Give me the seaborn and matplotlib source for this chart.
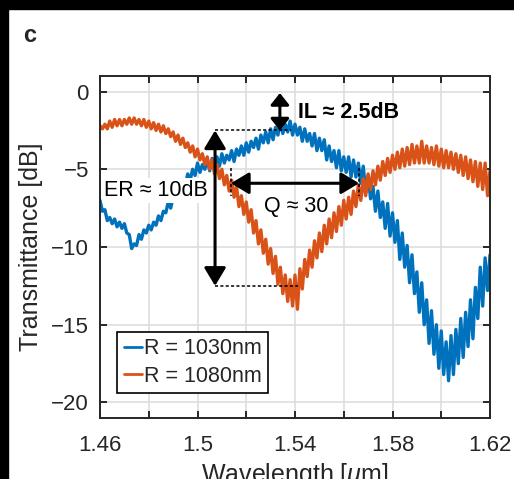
import numpy as np
import pandas as pd
import matplotlib
matplotlib.use("Agg")
import matplotlib.pyplot as plt
from matplotlib.patches import Rectangle
import seaborn as sns

# wavelength sampling grid [um], 1 nm steps
wavelength = np.round(np.linspace(1.460, 1.620, 161), 3)

t_1030 = [
    -7.0, -7.7, -7.6, -8.3, -8.1, -8.5, -8.2, -8.7, -8.4, -8.8,
    -8.5, -9.1, -9.2, -10.1, -9.8, -9.9, -9.2, -9.5, -8.9, -9.1,
    -8.6, -8.9, -8.4, -8.6, -8.0, -8.3, -7.7, -7.8, -7.1, -7.5,
    -6.8, -7.0, -6.2, -6.6, -5.8, -6.0, -5.3, -5.7, -5.0, -5.4,
    -4.6, -5.2, -4.7, -5.0, -4.4, -5.1, -4.3, -4.7, -4.2, -4.8,
    -4.0, -4.6, -4.1, -4.4, -3.8, -4.5, -3.7, -4.1, -3.5, -4.1,
    -3.3, -3.9, -3.2, -3.6, -3.0, -3.7, -2.8, -3.3, -2.6, -3.3,
    -2.4, -3.1, -2.3, -2.8, -1.9, -2.7, -2.1, -2.6, -1.9, -2.8,
    -2.1, -2.8, -2.3, -3.2, -2.4, -3.2, -2.7, -3.5, -2.7, -3.8,
    -3.0, -3.8, -3.1, -4.4, -3.5, -4.5, -3.8, -4.9, -3.8, -5.1,
    -4.2, -5.2, -4.2, -5.5, -4.4, -5.5, -4.6, -5.9, -4.8, -6.5,
    -5.4, -6.9, -6.1, -7.7, -6.4, -8.1, -7.1, -8.8, -7.2, -9.3,
    -7.8, -9.7, -8.3, -10.8, -9.1, -11.3, -9.9, -12.3, -10.5, -13.0,
    -11.6, -14.2, -12.3, -15.0, -13.4, -16.2, -14.1, -16.9, -15.0, -17.8,
    -15.4, -18.2, -16.1, -18.6, -15.7, -18.2, -15.3, -17.5, -14.6, -17.1,
    -14.2, -16.4, -13.4, -15.9, -12.6, -14.6, -11.3, -13.8, -10.7, -12.8,
    -10.5,
]
t_1080 = [
    -2.2, -2.4, -2.1, -2.4, -1.9, -2.3, -1.8, -2.2, -1.8, -2.2,
    -1.8, -2.1, -1.7, -2.1, -1.7, -2.1, -1.8, -2.2, -1.8, -2.3,
    -1.9, -2.4, -2.0, -2.5, -2.1, -2.6, -2.2, -2.7, -2.4, -2.9,
    -2.6, -3.2, -2.8, -3.4, -3.0, -3.6, -3.3, -3.9, -3.5, -4.2,
    -3.7, -4.4, -4.0, -4.7, -4.2, -5.0, -4.4, -5.3, -4.7, -5.6,
    -5.0, -6.0, -5.4, -6.4, -5.7, -6.8, -6.1, -7.4, -6.7, -7.9,
    -7.1, -8.4, -7.6, -9.1, -8.3, -9.8, -8.9, -10.4, -9.5, -11.1,
    -10.1, -11.7, -10.6, -12.4, -11.3, -13.0, -11.8, -13.5, -12.1, -13.8,
    -11.8, -14.0, -11.4, -12.7, -10.8, -11.9, -10.2, -11.3, -9.6, -10.7,
    -9.1, -10.3, -8.6, -9.8, -8.2, -9.4, -7.8, -9.0, -7.4, -8.6,
    -7.0, -8.2, -6.8, -7.9, -6.4, -7.4, -6.0, -7.0, -5.6, -6.7,
    -5.3, -6.3, -5.1, -6.0, -4.8, -5.7, -4.5, -5.4, -4.3, -5.2,
    -4.1, -5.0, -3.9, -4.9, -3.7, -4.8, -3.6, -4.7, -3.4, -4.6,
    -3.5, -4.6, -3.2, -4.6, -3.5, -4.6, -3.6, -4.7, -3.5, -4.8,
    -3.7, -4.9, -3.8, -4.9, -3.9, -5.0, -4.0, -5.2, -4.1, -5.4,
    -4.2, -5.6, -4.4, -5.8, -4.5, -6.1, -4.6, -6.3, -4.6, -6.7,
    -5.1,
]
series_labels = ["R = 1030nm", "R = 1080nm"]
colors = ["#0072BD", "#D95319"]

xticks = [1.46, 1.48, 1.50, 1.52, 1.54, 1.56, 1.58, 1.60, 1.62]
xtick_labels = ["1.46", "", "1.5", "", "1.54", "", "1.58", "", "1.62"]
yticks = [-20, -15, -10, -5, 0]

df = pd.concat([
    pd.DataFrame({"wl": wavelength, "T": t_1030, "ring": series_labels[0]}),
    pd.DataFrame({"wl": wavelength, "T": t_1080, "ring": series_labels[1]}),
])

sns.set_theme(style="ticks")
plt.rcParams["font.family"] = ["Liberation Sans", "DejaVu Sans"]
plt.rcParams["mathtext.fontset"] = "custom"
plt.rcParams["mathtext.it"] = "Liberation Sans:italic"
plt.rcParams["mathtext.rm"] = "Liberation Sans"

fig = plt.figure(figsize=(5.14, 4.79), dpi=100, facecolor="white")
ax = fig.add_axes([100 / 514, 1 - 418 / 479, 390 / 514, 342 / 479])

sns.lineplot(data=df, x="wl", y="T", hue="ring", hue_order=series_labels,
             palette=colors, estimator=None, sort=False, lw=2.4,
             legend=False, ax=ax)

ax.set_xlim(1.46, 1.62)
ax.set_ylim(-21, 1)
ax.set_xticks(xticks, xtick_labels)
ax.set_yticks(yticks)
ax.grid(True, color="#DEDEDE", lw=1.2)
ax.set_axisbelow(True)
dark = "#262626"
for s in ax.spines.values():
    s.set_visible(True)
    s.set_color(dark)
    s.set_linewidth(1.4)
ax.tick_params(direction="in", top=True, right=True, length=5, width=1.4,
               color=dark, labelcolor=dark, labelsize=16, pad=8)
ax.tick_params(axis="x", pad=12)
ax.set_xlabel(r"Wavelength [$\mu$m]", fontsize=18, color=dark, labelpad=4)
ax.set_ylabel("Transmittance [dB]", fontsize=18, color=dark, labelpad=6)

leg = ax.legend(ax.lines[:2], series_labels, loc="lower left",
                bbox_to_anchor=(0.044, 0.073), borderaxespad=0,
                fontsize=15.5, handlelength=0.85, handletextpad=0.1,
                labelspacing=0.3, borderpad=0.3, fancybox=False,
                framealpha=1, edgecolor="black")
leg.get_frame().set_linewidth(1.2)
for line in leg.get_lines():
    line.set_linewidth(2)

# annotations
arrow = dict(arrowstyle="<|-|>,head_length=0.5,head_width=0.3",
             mutation_scale=22, lw=2.2, color="black",
             shrinkA=0, shrinkB=0)
arrow_small = dict(arrow, arrowstyle="<|-|>,head_length=0.35,head_width=0.28",
                   mutation_scale=20)
dot = dict(color="black", lw=1.1, ls=(0, (2, 1.5)), zorder=5)

# insertion loss
ax.annotate("", xy=(1.5338, -0.1), xytext=(1.5338, -2.5),
            arrowprops=arrow_small, zorder=6)
ax.text(1.5412, -1.35, "IL \u2248 2.5dB", fontsize=15.5, fontweight="bold",
        va="center", ha="left", color="black")
ax.plot([1.5072, 1.5385], [-2.5, -2.5], **dot)

# extinction ratio
ax.annotate("", xy=(1.5072, -2.5), xytext=(1.5072, -12.5), arrowprops=arrow,
            zorder=6)
ax.plot([1.5072, 1.5412], [-12.5, -12.5], **dot)
ax.text(1.4828, -6.35, "ER \u2248 10dB", fontsize=15.5, va="center",
        ha="center", color="black", zorder=4,
        bbox=dict(facecolor="white", edgecolor="none", pad=1.5))

# Q factor
ax.annotate("", xy=(1.5137, -5.9), xytext=(1.5663, -5.9), arrowprops=arrow,
            zorder=6)
ax.plot([1.5137, 1.5137], [-4.95, -6.7], **dot)
ax.plot([1.5663, 1.5663], [-4.95, -6.7], **dot)
ax.text(1.5404, -7.4, "Q \u2248 30", fontsize=15.5, va="center",
        ha="center", color="black")

fig.text(23 / 514, 1 - 35 / 479, "c", fontsize=17, fontweight="bold",
         va="center", ha="left")

# dark frame edges of the original crop
fig.patches.append(Rectangle((0, 1 - 9 / 479), 1, 9 / 479,
                             transform=fig.transFigure, color="black"))
fig.patches.append(Rectangle((0, 0), 8 / 514, 1,
                             transform=fig.transFigure, color="black"))

fig.savefig("out.png", dpi=100, facecolor="white")
